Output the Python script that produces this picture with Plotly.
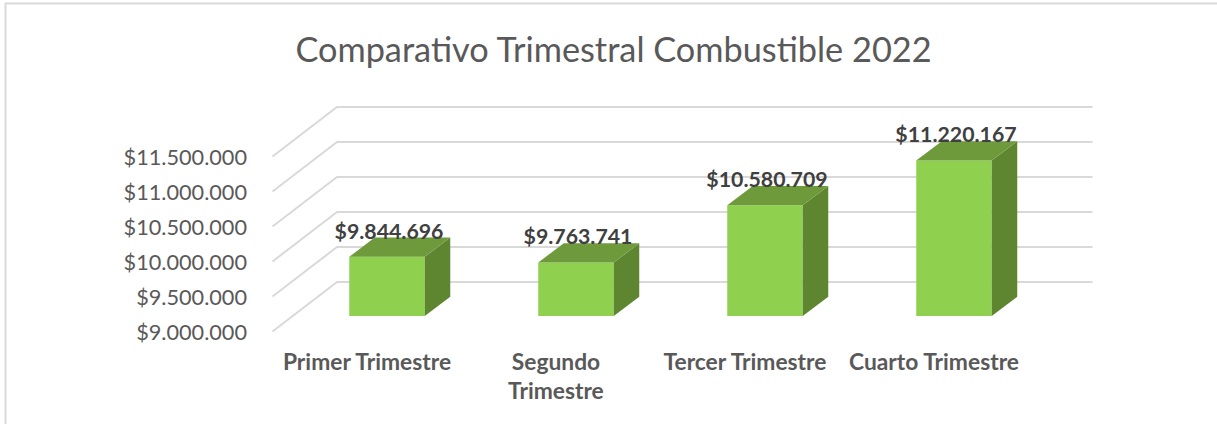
import plotly.graph_objects as go

TITLE = "Comparativo Trimestral Combustible 2022"
categories = ["Primer Trimestre", "Segundo Trimestre", "Tercer Trimestre", "Cuarto Trimestre"]
values = [9844696, 9763741, 10580709, 11220167]
y_ticks = [9000000, 9500000, 10000000, 10500000, 11000000, 11500000]

W, H = 1217, 424
FONT = "Lato"
BASE = 9000000
PX_X = 189.0            # px per category
PX_Y = 70.0 / 1e6       # px per value unit
X0 = 387.0              # px centre of first bar front
Y0 = 316.0              # px of bar base
BAR_W = 75.5 / PX_X
BAR_DX, BAR_DY = 25.5 / PX_X, 19.3 / PX_Y
BACK_DY = 34 / PX_Y
FRONT_DY = -15.5 / PX_Y
WALL_L, WALL_F, WALL_R = (337 - X0) / PX_X, (272.5 - X0) / PX_X, (1092.5 - X0) / PX_X
LABEL_SHIFT = -20 / PX_X
C_FRONT, C_SIDE, C_TOP = "#8FD14F", "#5E8530", "#6E9A3C"
C_GRID, C_TEXT, C_LABEL = "#D9D9D9", "#595959", "#404040"


def fmt(v):
    return "$" + f"{v:,}".replace(",", ".")


xs = list(range(len(categories)))
fig = go.Figure()

fig.add_trace(go.Bar(x=xs, y=[v - BASE for v in values], base=BASE, width=BAR_W,
                     marker=dict(color=C_FRONT, line=dict(width=0)), hoverinfo="skip"))

for i, v in zip(xs, values):
    l, r = i - BAR_W / 2, i + BAR_W / 2
    fig.add_trace(go.Scatter(
        x=[r, r + BAR_DX, r + BAR_DX, r, r], y=[BASE, BASE + BAR_DY, v + BAR_DY, v, BASE],
        mode="lines", fill="toself", fillcolor=C_SIDE, line=dict(width=0), hoverinfo="skip"))
    fig.add_trace(go.Scatter(
        x=[l, l + BAR_DX, r + BAR_DX, r, l], y=[v, v + BAR_DY, v + BAR_DY, v, v],
        mode="lines", fill="toself", fillcolor=C_TOP, line=dict(width=0), hoverinfo="skip"))

fig.add_trace(go.Scatter(
    x=[i + 2 / PX_X for i in xs], y=[v + 23.5 / PX_Y for v in values],
    text=[fmt(v) for v in values], mode="text", textposition="middle center",
    textfont=dict(family=FONT, size=21.3, color=C_LABEL, weight="bold"), hoverinfo="skip"))

# invisible trace on the secondary axis so the value tick labels render
fig.add_trace(go.Scatter(x=[0], y=[BASE], yaxis="y2", mode="markers",
                         marker=dict(opacity=0), hoverinfo="skip"))

shapes = []
for t in y_ticks:
    path = (f"M {WALL_F} {t + FRONT_DY} L {WALL_L} {t + BACK_DY} L {WALL_R} {t + BACK_DY}")
    shapes.append(dict(type="path", path=path, xref="x", yref="y", layer="below",
                       line=dict(color=C_GRID, width=2)))
shapes.append(dict(type="path", path=f"M {5.5/W} 0 L {5.5/W} {1-3.5/H} L 1 {1-3.5/H}",
                   xref="paper", yref="paper", line=dict(color=C_GRID, width=2)))

first_lines = [c if c != "Segundo Trimestre" else "Segundo" for c in categories]

annotations = [dict(text="Trimestre", x=1 + LABEL_SHIFT, xref="x", y=1 - 390 / H, yref="paper",
                    showarrow=False, xanchor="center", yanchor="middle",
                    font=dict(family=FONT, size=22.8, color=C_TEXT, weight="bold"))]

fig.update_layout(
    width=W, height=H, margin=dict(l=0, r=0, t=0, b=0), autosize=False,
    paper_bgcolor="white", plot_bgcolor="white", showlegend=False, barmode="overlay",
    title=dict(text=TITLE, x=613.5 / W, y=1 - 50 / H, xanchor="center", yanchor="middle",
               font=dict(family=FONT, size=34.3, color=C_TEXT)),
    xaxis=dict(range=[-X0 / PX_X, (W - X0) / PX_X], domain=[0, 1], showgrid=False, zeroline=False,
               showline=False, ticks="", tickmode="array",
               tickvals=[i + LABEL_SHIFT for i in xs], ticktext=first_lines,
               tickfont=dict(family=FONT, size=22.8, color=C_TEXT, weight="bold"),
               anchor="free", position=1 - 346 / H),
    yaxis=dict(range=[BASE - (H - Y0) / PX_Y, BASE + Y0 / PX_Y], domain=[0, 1], showgrid=False,
               zeroline=False, showline=False, showticklabels=False, ticks=""),
    yaxis2=dict(range=[BASE - (H - 332) / PX_Y, BASE + 332 / PX_Y], domain=[0, 1], overlaying="y",
                anchor="free", position=247 / W, side="left", showgrid=False, zeroline=False,
                showline=False, ticks="", tickmode="array", tickvals=y_ticks,
                ticktext=[fmt(t) for t in y_ticks],
                tickfont=dict(family=FONT, size=21.7, color=C_TEXT)),
    shapes=shapes, annotations=annotations,
)

fig.write_html("out.html", config={"displayModeBar": False},
               post_script="document.body.style.margin='0';document.documentElement.style.overflow='hidden';")
